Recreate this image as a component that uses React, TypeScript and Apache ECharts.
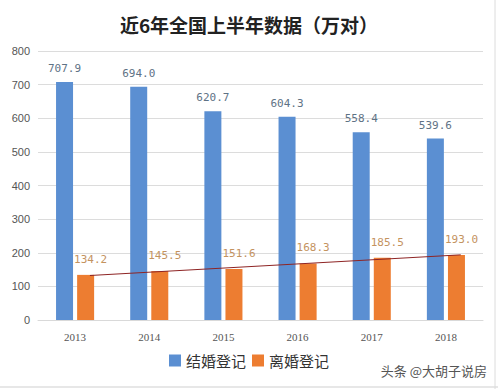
import React, { useEffect, useRef } from "react";
import * as echarts from "echarts";

const categories = ["2013", "2014", "2015", "2016", "2017", "2018"];
const marriage = [707.9, 694.0, 620.7, 604.3, 558.4, 539.6];
const divorce = [134.2, 145.5, 151.6, 168.3, 185.5, 193.0];
// trend line end values
const trendEnds = [132.3, 193.8];
const yTicks = { min: 0, max: 800, interval: 100 };

export default function App() {
  const ref = useRef<HTMLDivElement>(null);
  useEffect(() => {
    document.body.style.margin = "0";
    const chart = echarts.init(ref.current!, null, { renderer: "svg" });
    const fmt = (p: any) => Number(p.value).toFixed(1);
    chart.setOption({
      animation: false,
      backgroundColor: "#ffffff",
      title: {
        text: "近6年全国上半年数据（万对）",
        left: "center",
        top: 10,
        textStyle: {
          fontFamily: "Noto Sans CJK SC",
          fontWeight: "bold",
          fontSize: 19,
          color: "#222222",
        },
      },
      grid: { left: 38, right: 15, top: 51, bottom: 69, containLabel: false },
      legend: {
        bottom: 16,
        left: "center",
        itemWidth: 12,
        itemHeight: 12,
        itemGap: 6,
        icon: "rect",
        data: ["结婚登记", "离婚登记"],
        textStyle: { fontFamily: "Noto Sans CJK SC", fontSize: 15, color: "#333333" },
      },
      xAxis: [
        {
          type: "category",
          data: categories,
          axisLine: { lineStyle: { color: "#d9d9d9" } },
          axisTick: { show: false },
          axisLabel: { color: "#555555", fontSize: 11, margin: 11, fontFamily: "Liberation Serif" },
        },
        {
          type: "value",
          min: -0.5,
          max: 5.5,
          show: false,
        },
      ],
      yAxis: {
        type: "value",
        min: yTicks.min,
        max: yTicks.max,
        interval: yTicks.interval,
        axisLine: { show: false },
        axisTick: { show: false },
        splitLine: { lineStyle: { color: "#dcdcdc" } },
        axisLabel: { color: "#555555", fontSize: 11, margin: 8, fontFamily: "Liberation Sans" },
      },
      series: [
        {
          name: "结婚登记",
          type: "bar",
          data: marriage,
          barWidth: 17,
          barGap: "24%",
          itemStyle: { color: "#5b8fd2" },
          label: {
            show: true,
            position: "top",
            distance: 8,
            formatter: fmt,
            color: "#5e7285",
            fontSize: 11,
            fontFamily: "DejaVu Sans Mono",
          },
        },
        {
          name: "离婚登记",
          type: "bar",
          data: divorce,
          barWidth: 17,
          z: 3,
          itemStyle: { color: "#ed7d31" },
          label: {
            show: true,
            position: "top",
            distance: 10,
            offset: [5, 0],
            formatter: fmt,
            color: "#c4935f",
            fontSize: 11,
            fontFamily: "DejaVu Sans Mono",
          },
        },
        {
          name: "trend",
          type: "line",
          xAxisIndex: 1,
          data: [
            [0.2, trendEnds[0]],
            [5.2, trendEnds[1]],
          ],
          symbol: "none",
          lineStyle: { color: "#8e2424", width: 1 },
          silent: true,
          z: 5,
        },
      ],
      graphic: [
        {
          type: "text",
          right: 11,
          top: 364,
          style: {
            text: "头条 @大胡子说房",
            fontFamily: "Noto Sans CJK SC",
            fontSize: 13,
            fill: "#555555",
          },
        },
        {
          type: "line",
          shape: { x1: 0, y1: 387, x2: 498, y2: 387 },
          style: { stroke: "#cfcfcf", lineWidth: 1 },
        },
        {
          type: "line",
          shape: { x1: 495, y1: 0, x2: 495, y2: 389 },
          style: { stroke: "#dcdcdc", lineWidth: 1 },
        },
      ],
    });
    return () => chart.dispose();
  }, []);
  return <div ref={ref} style={{ width: 498, height: 389 }} />;
}
